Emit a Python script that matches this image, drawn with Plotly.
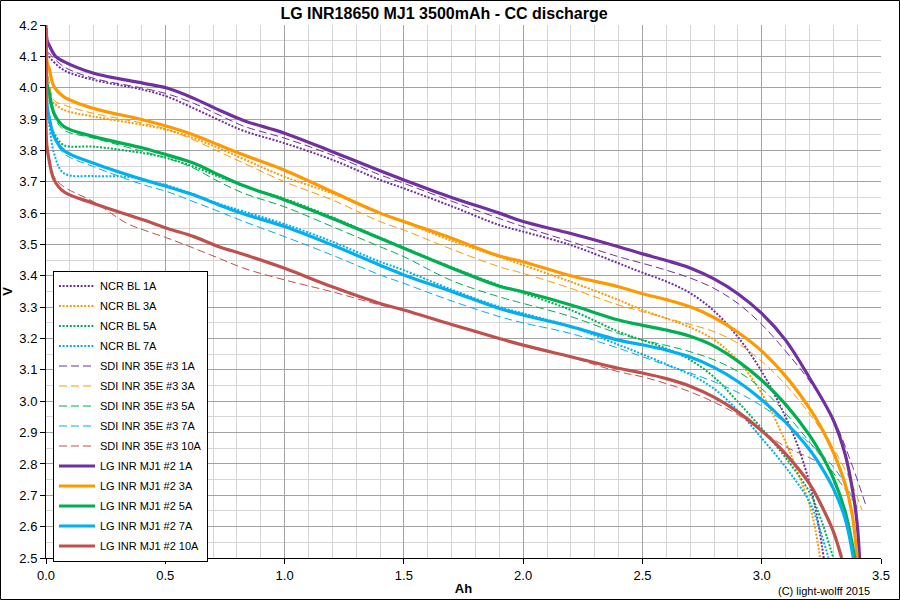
import plotly.graph_objects as go

# ---------------- data (Ah, V) ----------------
ncr1_x = [0, 0.005, 0.013, 0.075, 0.2, 0.41, 0.51, 0.62, 0.725, 0.83, 1.0, 1.2, 1.4, 1.5, 1.7, 1.9, 2.0, 2.2, 2.4, 2.5, 2.6, 2.7, 2.8, 2.9, 3.0, 3.1, 3.15, 3.2, 3.23, 3.26]
ncr1_y = [4.19, 4.11, 4.099, 4.056, 4.025, 3.993, 3.971, 3.934, 3.897, 3.862, 3.823, 3.77, 3.706, 3.679, 3.622, 3.562, 3.541, 3.498, 3.44, 3.41, 3.382, 3.345, 3.288, 3.205, 3.095, 2.95, 2.86, 2.74, 2.64, 2.50]

ncr3_x = [0, 0.005, 0.013, 0.034, 0.075, 0.2, 0.41, 0.51, 0.62, 0.725, 0.83, 1.0, 1.2, 1.4, 1.5, 1.7, 1.9, 2.0, 2.2, 2.4, 2.5, 2.6, 2.7, 2.8, 2.9, 3.0, 3.1, 3.15, 3.2, 3.225, 3.245]
ncr3_y = [4.19, 4.0, 3.966, 3.95, 3.929, 3.908, 3.881, 3.865, 3.839, 3.807, 3.772, 3.716, 3.663, 3.60, 3.572, 3.512, 3.461, 3.434, 3.381, 3.323, 3.291, 3.264, 3.236, 3.196, 3.13, 3.025, 2.87, 2.775, 2.67, 2.59, 2.50]

ncr5_x = [0, 0.005, 0.013, 0.034, 0.075, 0.2, 0.41, 0.51, 0.62, 0.725, 0.83, 1.0, 1.2, 1.4, 1.5, 1.7, 1.9, 2.0, 2.2, 2.4, 2.5, 2.6, 2.7, 2.8, 2.9, 3.0, 3.1, 3.2, 3.25, 3.30]
ncr5_y = [4.19, 3.93, 3.897, 3.855, 3.817, 3.812, 3.791, 3.775, 3.748, 3.716, 3.686, 3.646, 3.587, 3.522, 3.49, 3.428, 3.37, 3.345, 3.291, 3.222, 3.195, 3.168, 3.132, 3.077, 2.998, 2.913, 2.82, 2.71, 2.62, 2.50]

ncr7_x = [0, 0.005, 0.013, 0.034, 0.075, 0.2, 0.34, 0.41, 0.51, 0.62, 0.725, 0.83, 1.0, 1.2, 1.4, 1.5, 1.7, 1.9, 2.0, 2.2, 2.4, 2.5, 2.6, 2.7, 2.8, 2.9, 3.0, 3.1, 3.2, 3.24, 3.28]
ncr7_y = [4.19, 3.92, 3.886, 3.79, 3.727, 3.718, 3.716, 3.706, 3.688, 3.66, 3.63, 3.605, 3.565, 3.509, 3.445, 3.418, 3.356, 3.301, 3.28, 3.238, 3.18, 3.15, 3.118, 3.085, 3.04, 2.97, 2.882, 2.79, 2.68, 2.60, 2.50]

sdi1_x = [0, 0.005, 0.013, 0.075, 0.2, 0.41, 0.51, 0.62, 0.725, 0.83, 1.0, 1.2, 1.4, 1.5, 1.7, 1.9, 2.0, 2.2, 2.4, 2.5, 2.6, 2.7, 2.8, 2.9, 3.0, 3.1, 3.2, 3.3, 3.377, 3.44]
sdi1_y = [4.19, 4.12, 4.11, 4.067, 4.03, 3.998, 3.98, 3.95, 3.913, 3.877, 3.839, 3.785, 3.722, 3.695, 3.638, 3.583, 3.557, 3.509, 3.461, 3.44, 3.418, 3.393, 3.36, 3.312, 3.245, 3.16, 3.065, 2.945, 2.80, 2.66]

sdi3_x = [0, 0.005, 0.013, 0.034, 0.075, 0.2, 0.41, 0.51, 0.62, 0.725, 0.83, 1.0, 1.2, 1.4, 1.5, 1.7, 1.9, 2.0, 2.2, 2.4, 2.5, 2.6, 2.7, 2.8, 2.9, 3.0, 3.1, 3.2, 3.3, 3.377, 3.42]
sdi3_y = [4.19, 4.06, 4.02, 3.96, 3.945, 3.918, 3.886, 3.867, 3.833, 3.796, 3.759, 3.70, 3.642, 3.573, 3.546, 3.485, 3.429, 3.408, 3.36, 3.307, 3.286, 3.265, 3.245, 3.222, 3.185, 3.127, 3.053, 2.96, 2.85, 2.738, 2.653]

sdi5_x = [0, 0.005, 0.013, 0.034, 0.075, 0.2, 0.41, 0.51, 0.62, 0.725, 0.83, 1.0, 1.2, 1.4, 1.5, 1.7, 1.9, 2.0, 2.2, 2.4, 2.5, 2.6, 2.7, 2.8, 2.9, 3.0, 3.1, 3.2, 3.26, 3.33, 3.40]
sdi5_y = [4.19, 3.99, 3.96, 3.908, 3.865, 3.839, 3.796, 3.775, 3.743, 3.70, 3.663, 3.62, 3.557, 3.493, 3.461, 3.385, 3.333, 3.312, 3.27, 3.216, 3.195, 3.178, 3.158, 3.132, 3.095, 3.04, 2.962, 2.87, 2.813, 2.74, 2.664]

sdi7_x = [0, 0.005, 0.013, 0.034, 0.075, 0.2, 0.41, 0.51, 0.62, 0.725, 0.83, 1.0, 1.2, 1.4, 1.5, 1.7, 1.9, 2.0, 2.2, 2.4, 2.5, 2.6, 2.7, 2.8, 2.9, 3.0, 3.1, 3.2, 3.29, 3.35, 3.40]
sdi7_y = [4.19, 3.92, 3.89, 3.84, 3.79, 3.748, 3.69, 3.668, 3.636, 3.605, 3.573, 3.525, 3.466, 3.403, 3.376, 3.32, 3.27, 3.25, 3.216, 3.169, 3.142, 3.115, 3.09, 3.062, 3.028, 2.985, 2.93, 2.866, 2.80, 2.735, 2.66]

sdi10_x = [0, 0.003, 0.013, 0.034, 0.075, 0.2, 0.34, 0.41, 0.51, 0.62, 0.725, 0.83, 1.0, 1.2, 1.4, 1.5, 1.7, 1.9, 2.0, 2.2, 2.4, 2.5, 2.6, 2.7, 2.8, 2.9, 3.0, 3.1, 3.2, 3.25]
sdi10_y = [4.19, 3.83, 3.77, 3.716, 3.684, 3.636, 3.567, 3.546, 3.52, 3.488, 3.456, 3.424, 3.387, 3.349, 3.307, 3.291, 3.243, 3.198, 3.177, 3.14, 3.094, 3.078, 3.056, 3.03, 2.997, 2.957, 2.905, 2.855, 2.82, 2.80]

lg1_x = [0, 0.005, 0.013, 0.04, 0.075, 0.2, 0.41, 0.51, 0.62, 0.725, 0.83, 1.0, 1.2, 1.4, 1.5, 1.7, 1.9, 2.0, 2.2, 2.4, 2.5, 2.6, 2.7, 2.8, 2.9, 3.0, 3.1, 3.2, 3.3, 3.35, 3.38, 3.40, 3.41]
lg1_y = [4.19, 4.15, 4.136, 4.10, 4.083, 4.046, 4.014, 3.998, 3.966, 3.929, 3.895, 3.855, 3.796, 3.735, 3.706, 3.65, 3.60, 3.573, 3.535, 3.493, 3.47, 3.449, 3.425, 3.39, 3.343, 3.28, 3.195, 3.075, 2.94, 2.83, 2.72, 2.61, 2.50]

lg3_x = [0, 0.005, 0.013, 0.034, 0.075, 0.2, 0.41, 0.51, 0.62, 0.725, 0.83, 1.0, 1.2, 1.4, 1.5, 1.7, 1.9, 2.0, 2.2, 2.4, 2.5, 2.6, 2.7, 2.8, 2.9, 3.0, 3.1, 3.2, 3.25, 3.3, 3.35, 3.38, 3.40]
lg3_y = [4.19, 4.08, 4.062, 4.003, 3.971, 3.934, 3.897, 3.876, 3.849, 3.817, 3.785, 3.737, 3.668, 3.60, 3.573, 3.52, 3.463, 3.445, 3.40, 3.365, 3.343, 3.324, 3.301, 3.267, 3.22, 3.16, 3.08, 2.978, 2.915, 2.838, 2.735, 2.635, 2.50]

lg5_x = [0, 0.005, 0.013, 0.034, 0.075, 0.2, 0.41, 0.51, 0.62, 0.725, 0.83, 1.0, 1.2, 1.4, 1.5, 1.7, 1.9, 2.0, 2.2, 2.4, 2.5, 2.6, 2.7, 2.8, 2.9, 3.0, 3.1, 3.2, 3.25, 3.3, 3.35, 3.39]
lg5_y = [4.19, 4.01, 3.987, 3.918, 3.876, 3.844, 3.807, 3.785, 3.759, 3.722, 3.687, 3.642, 3.583, 3.52, 3.488, 3.425, 3.367, 3.349, 3.307, 3.259, 3.242, 3.227, 3.207, 3.176, 3.128, 3.067, 2.99, 2.892, 2.83, 2.755, 2.648, 2.50]

lg7_x = [0, 0.005, 0.013, 0.034, 0.075, 0.2, 0.41, 0.51, 0.62, 0.725, 0.83, 1.0, 1.2, 1.4, 1.5, 1.7, 1.9, 2.0, 2.2, 2.4, 2.5, 2.6, 2.7, 2.8, 2.9, 3.0, 3.1, 3.2, 3.25, 3.3, 3.35, 3.384]
lg7_y = [4.19, 3.94, 3.908, 3.844, 3.80, 3.759, 3.706, 3.684, 3.658, 3.626, 3.597, 3.557, 3.498, 3.434, 3.403, 3.35, 3.296, 3.275, 3.238, 3.195, 3.18, 3.163, 3.141, 3.108, 3.063, 3.005, 2.933, 2.846, 2.79, 2.722, 2.625, 2.50]

lg10_x = [0, 0.003, 0.013, 0.034, 0.075, 0.2, 0.41, 0.51, 0.62, 0.725, 0.83, 1.0, 1.2, 1.4, 1.5, 1.7, 1.9, 2.0, 2.2, 2.4, 2.5, 2.6, 2.7, 2.8, 2.9, 3.0, 3.1, 3.2, 3.25, 3.3, 3.335]
lg10_y = [4.2, 3.82, 3.769, 3.706, 3.668, 3.631, 3.578, 3.551, 3.525, 3.493, 3.468, 3.424, 3.365, 3.312, 3.291, 3.245, 3.20, 3.179, 3.142, 3.105, 3.09, 3.072, 3.048, 3.013, 2.966, 2.906, 2.832, 2.737, 2.668, 2.585, 2.50]

series_names = ["NCR BL 1A", "NCR BL 3A", "NCR BL 5A", "NCR BL 7A",
                "SDI INR 35E #3 1A", "SDI INR 35E #3 3A", "SDI INR 35E #3 5A",
                "SDI INR 35E #3 7A", "SDI INR 35E #3 10A",
                "LG INR MJ1 #2 1A", "LG INR MJ1 #2 3A", "LG INR MJ1 #2 5A",
                "LG INR MJ1 #2 7A", "LG INR MJ1 #2 10A"]

title_text = "LG INR18650 MJ1 3500mAh - CC discharge"
x_title = "Ah"
y_title = "V"
credit_text = "(C) light-wolff 2015"

# ---------------- styling ----------------
PURPLE = "#7030A0"
ORANGE = "#FF9900"
GREEN = "#00B050"
BLUE = "#00B0F0"
RED = "#C0504D"

series = [
    (ncr1_x, ncr1_y, PURPLE, "dot"),
    (ncr3_x, ncr3_y, ORANGE, "dot"),
    (ncr5_x, ncr5_y, GREEN, "dot"),
    (ncr7_x, ncr7_y, BLUE, "dot"),
    (sdi1_x, sdi1_y, PURPLE, "dash"),
    (sdi3_x, sdi3_y, ORANGE, "dash"),
    (sdi5_x, sdi5_y, GREEN, "dash"),
    (sdi7_x, sdi7_y, BLUE, "dash"),
    (sdi10_x, sdi10_y, RED, "dash"),
    (lg1_x, lg1_y, PURPLE, "solid"),
    (lg3_x, lg3_y, ORANGE, "solid"),
    (lg5_x, lg5_y, GREEN, "solid"),
    (lg7_x, lg7_y, BLUE, "solid"),
    (lg10_x, lg10_y, RED, "solid"),
]

fig = go.Figure()
for i, ((xs, ys, col, kind), name) in enumerate(zip(series, series_names)):
    if kind == "dot":
        line = dict(color=col, width=2, dash="2px,1.6px", shape="spline", smoothing=1.0)
    elif kind == "dash":
        line = dict(color=col, width=1, dash="8px,4px", shape="spline", smoothing=1.0)
    else:
        line = dict(color=col, width=3.2, shape="spline", smoothing=1.0)
    fig.add_trace(go.Scatter(x=xs, y=ys, mode="lines", name=name, line=line,
                             legendgroup="g%d" % i, hoverinfo="skip"))

ML, MR, MT, MB = 46, 19, 25, 42
W, H = 900, 600
PW, PH = W - ML - MR, H - MT - MB

MAJOR = "#a2a2a2"
MINOR = "#d6d6d6"
FONT = "Liberation Sans, Arial, sans-serif"

fig.update_layout(
    width=W, height=H,
    margin=dict(l=ML, r=MR, t=MT, b=MB, pad=0, autoexpand=False),
    paper_bgcolor="white", plot_bgcolor="white",
    font=dict(family=FONT, size=13, color="black"),
    showlegend=True,
    legend=dict(x=(53 - ML) / PW, y=(558 - 270.5) / PH, xanchor="left", yanchor="top",
                bgcolor="white", bordercolor="black", borderwidth=1,
                font=dict(family=FONT, size=11, color="black"),
                tracegroupgap=1, itemwidth=36, traceorder="grouped"),
    title=dict(text="<b>" + title_text + "</b>", x=444 / W, xref="container", xanchor="center",
               y=1 - 13 / H, yanchor="middle",
               font=dict(family="Liberation Sans Narrow, Arial Narrow, Liberation Sans, Arial", size=16, color="black")),
    xaxis=dict(range=[0, 3.5], dtick=0.5, tick0=0, tickformat=".1f",
               showgrid=True, gridcolor=MAJOR, gridwidth=1,
               minor=dict(dtick=0.1, tick0=0, showgrid=True, gridcolor=MINOR, gridwidth=1, ticks=""),
               showline=True, linecolor="black", linewidth=1,
               ticks="outside", ticklen=5, tickcolor="black",
               zeroline=False, layer="below traces", automargin=False,
               title=dict(text="<b>" + x_title + "</b>", standoff=2, font=dict(size=13)),
               tickfont=dict(size=13)),
    yaxis=dict(range=[2.5, 4.2], dtick=0.1, tick0=2.5, tickformat=".1f",
               showgrid=True, gridcolor=MAJOR, gridwidth=1,
               minor=dict(dtick=0.05, tick0=2.5, showgrid=True, gridcolor=MINOR, gridwidth=1, ticks=""),
               showline=True, linecolor="black", linewidth=1,
               ticks="outside", ticklen=5, tickcolor="black",
               zeroline=False, layer="below traces", automargin=False,
               title=dict(text="<b>" + y_title + "</b>", standoff=4, font=dict(size=13)),
               tickfont=dict(size=13)),
)

# outer chart border
fig.add_shape(type="rect", xref="paper", yref="paper",
              x0=(0.5 - ML) / PW, x1=(W - 0.5 - ML) / PW,
              y0=-(H - 0.5 - MT - PH) / PH, y1=(PH + MT - 0.5) / PH,
              line=dict(color="black", width=1), fillcolor="rgba(0,0,0,0)", layer="above")

fig.add_annotation(text=credit_text, xref="paper", yref="paper",
                   x=(872 - ML) / PW, y=-(591 - MT - PH) / PH, xanchor="right", yanchor="middle",
                   showarrow=False, font=dict(family="Liberation Sans Narrow, Liberation Sans, Arial", size=11, color="black"))

fig.write_html("out.html")
